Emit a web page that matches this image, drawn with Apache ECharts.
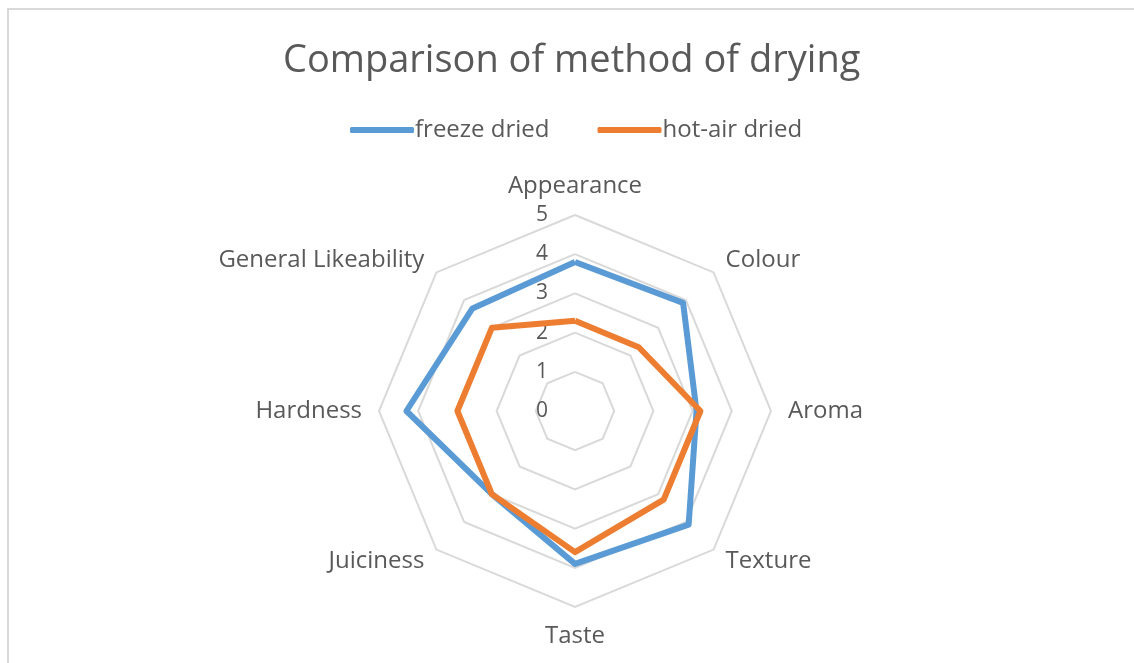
<!DOCTYPE html>
<html>
<head>
<meta charset="utf-8">
<script src="https://cdn.jsdelivr.net/npm/echarts@6/dist/echarts.min.js"></script>
<style>
  html, body { margin: 0; padding: 0; background: #fff; }
  #frame {
    position: absolute; left: 7px; top: 8px; width: 1200px; height: 700px;
    border-left: 2px solid #d9d9d9; border-top: 2px solid #d9d9d9;
  }
  #radar { position: absolute; left: 0; top: 0; width: 1134px; height: 663px; }
</style>
</head>
<body>
<div id="frame"></div>
<div id="radar"></div>
<script>
// axes of the radar, clockwise from the top
var indicators = ["Appearance", "Colour", "Aroma", "Texture", "Taste", "Juiciness", "Hardness", "General Likeability"];
var freezeDried = [3.8, 3.9, 3.1, 4.1, 3.9, 3.0, 4.3, 3.7];
var hotAirDried = [2.3, 2.3, 3.2, 3.2, 3.6, 3.0, 3.0, 3.0];
var seriesNames = ["freeze dried", "hot-air dried"];
var maxValue = 5;

var font = "'Open Sans', sans-serif";
var textColor = "#595959";

// echarts lays radar axes out counter-clockwise, so keep the first one and reverse the rest
var order = [0];
for (var k = indicators.length - 1; k > 0; k--) order.push(k);
function reorder(arr) { return order.map(function (i) { return arr[i]; }); }

var chart = echarts.init(document.getElementById("radar"));

var option = {
  animation: false,
  color: ["#5B9BD5", "#ED7D31"],
  title: {
    text: "Comparison of method of drying",
    left: 278,
    top: 37,
    textStyle: { fontFamily: font, fontSize: 38, fontWeight: "normal", color: textColor }
  },
  legend: {
    top: 118,
    left: 350,
    padding: 0,
    icon: "roundRect",
    itemWidth: 64,
    itemHeight: 6,
    itemGap: 48,
    data: seriesNames,
    textStyle: { fontFamily: font, fontSize: 24, color: textColor, padding: [0, 0, 0, -4] }
  },
  radar: {
    center: [575, 411],
    radius: 196,
    startAngle: 90,
    shape: "polygon",
    splitNumber: 5,
    nameGap: 17,
    axisName: { fontFamily: font, fontSize: 24, color: textColor },
    axisLine: { show: false },
    axisTick: { show: false },
    splitArea: { show: false },
    splitLine: { lineStyle: { color: "#d9d9d9", width: 2 } },
    axisLabel: { show: true, fontFamily: font, fontSize: 21, color: textColor, margin: 27 },
    indicator: reorder(indicators).map(function (name, i) {
      var ind = { name: name, min: 0, max: maxValue };
      if (i > 0) ind.axisLabel = { show: false };
      return ind;
    })
  },
  series: [{
    type: "radar",
    symbol: "none",
    lineStyle: { width: 6 },
    data: [
      { name: seriesNames[0], value: reorder(freezeDried) },
      { name: seriesNames[1], value: reorder(hotAirDried) }
    ]
  }]
};

chart.setOption(option);
</script>
</body>
</html>
